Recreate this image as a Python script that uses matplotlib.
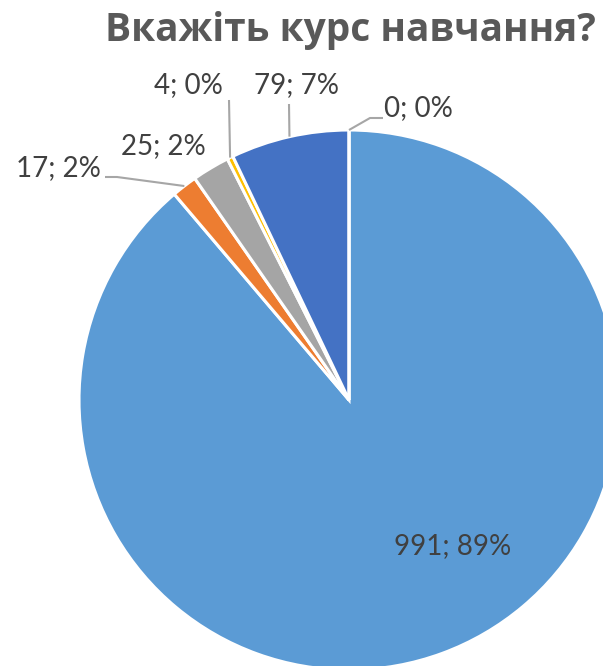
import numpy as np
import matplotlib.pyplot as plt

title = "Вкажіть курс навчання?"
values = [991, 17, 25, 4, 79, 0]
colors = ["#5B9BD5", "#ED7D31", "#A5A5A5", "#FFC000", "#4472C4", "#70AD47"]

W, H = 603, 666
cx, cy, R = 349, H - 400, 270

fig = plt.figure(figsize=(W / 100, H / 100), dpi=100)
ax = fig.add_axes([0, 0, 1, 1])
wedges, _ = ax.pie(values, colors=colors, startangle=90, counterclock=False,
                   center=(cx, cy), radius=R,
                   wedgeprops=dict(edgecolor="white", linewidth=2.2))
ax.set_xlim(0, W)
ax.set_ylim(0, H)
ax.set_aspect("auto")
ax.axis("off")

total = sum(values)
labels = [f"{v}; {round(100 * v / total):.0f}%" for v in values]

# label placement (pixel coords, y down): text centre, leader-line elbows
text_pos = [(453, 546), (58, 168), (163, 146), (188, 85), (297, 85), (418, 108)]
leaders = [None, [(117, 177), (105, 177)], None, [(229, 100)], [(289, 104)],
           [(370, 118), (383, 118)]]

for w, lab, (tx, ty), pts in zip(wedges, labels, text_pos, leaders):
    if pts is not None:
        mid = np.deg2rad((w.theta1 + w.theta2) / 2)
        ax_x = cx + R * np.cos(mid)
        ax_y = cy + R * np.sin(mid)
        xs = [ax_x] + [p[0] for p in pts]
        ys = [ax_y] + [H - p[1] for p in pts]
        ax.plot(xs, ys, color="#A6A6A6", lw=1.5, solid_capstyle="butt")
    ax.text(tx, H - ty, lab, ha="center", va="center", fontsize=20,
            family=["Lato", "DejaVu Sans"], color="#404040")

fig.text(350 / W, 1 - 30 / H, title, ha="center", va="center", fontsize=28,
         fontweight="bold", family=["Open Sans", "DejaVu Sans"], color="#595959")

fig.savefig("out.png", dpi=100)
